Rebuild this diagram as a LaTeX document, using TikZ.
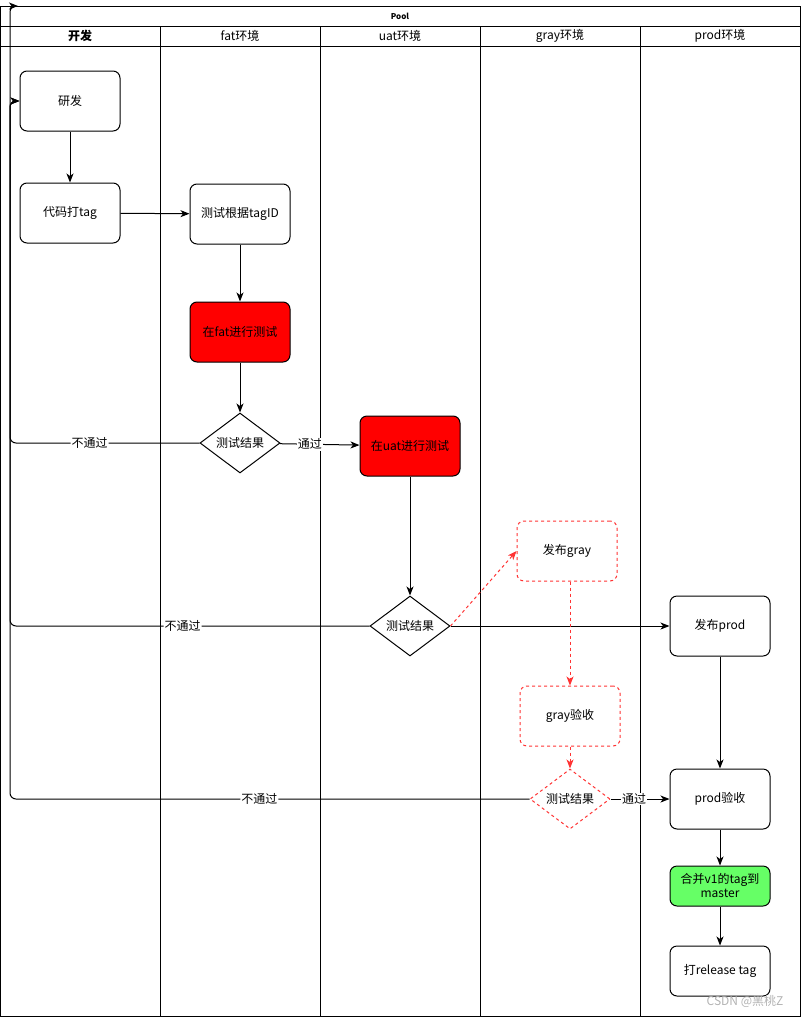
\documentclass[tikz,border=0pt]{standalone}
\usepackage{fontspec}
\setmainfont{Noto Sans CJK SC}
\usetikzlibrary{positioning, arrows, arrows.meta, shapes.geometric}
\definecolor{dashred}{RGB}{255,51,51}
\definecolor{okgreen}{RGB}{102,255,102}
\tikzset{
>={Stealth[length=9pt, width=7pt, inset=2.5pt]}, % arrow heads
lane/.style={line width=1pt}, % lines of the pool and its lanes
every node/.style={font=\fontsize{12}{14}\selectfont}, % text size of all labels
header/.style={}, % lane titles
box/.style={draw, line width=1pt, rounded corners=7pt, fill=white, minimum width=100pt, minimum height=60pt, align=center}, % the step boxes
redbox/.style={box, fill=red}, % steps run in a test env
greenbox/.style={box, fill=okgreen, minimum height=40pt}, % merge step
graybox/.style={box, draw=dashred, dashed}, % gray env steps
decision/.style={diamond, draw, line width=1pt, fill=white, aspect=1.333, minimum width=80pt, minimum height=60pt, inner sep=0pt}, % test results
flow/.style={->, line width=1pt}, % connectors
grayflow/.style={->, line width=1pt, dashred, dashed}, % connectors in gray env
tag/.style={fill=white, inner sep=1pt}, % labels on the connectors
}
\begin{document}
\begin{tikzpicture}[x=1pt, y=-1pt]
    \useasboundingbox (0,0) rectangle (801,1017);
    % pool and lanes
    \draw[lane] (0,6) rectangle (800,1016);
    \draw[lane] (0,26) -- (800,26) (0,46) -- (800,46);
    \foreach \x in {160,320,480,640}
        \draw[lane] (\x,26) -- (\x,1016);
    \node[font=\bfseries\fontsize{8}{9}\selectfont] (pool) at (400,16) {Pool};
    \node[header, font=\bfseries\fontsize{12}{14}\selectfont] (dev) at (80,36) {开发};
    \node[header] (fat) at (240,36) {fat环境};
    \node[header] (uat) at (400,36) {uat环境};
    \node[header] (gray) at (560,36) {gray环境};
    \node[header] (prod) at (720,36) {prod环境};

    % steps
    \node[box] (yanfa) at (70,101) {研发};
    \node[box] (dagtag) at (70,213) {代码打tag};
    \node[box] (tagid) at (240,214) {测试根据tagID};
    \node[redbox] (fattest) at (240,332) {在fat进行测试};
    \node[decision] (dfat) at (240,443) {测试结果};
    \node[redbox] (uattest) at (410,446) {在uat进行测试};
    \node[decision] (duat) at (410,626) {测试结果};
    \node[graybox] (pubgray) at (567,551) {发布gray};
    \node[graybox] (grayok) at (570,716) {gray验收};
    \node[decision, draw=dashred, dashed] (dgray) at (570,799) {测试结果};
    \node[box] (pubprod) at (720,626) {发布prod};
    \node[box] (prodok) at (720,799) {prod验收};
    \node[greenbox] (merge) at (720,886) {合并v1的tag到\\master};
    \node[box, minimum height=50pt] (release) at (720,971) {打release tag};
    \node[text=gray!60] (mark) at (745,1001) {CSDN @黑桃Z};

    % way back to the start
    \coordinate (backA) at (10,101);
    \coordinate (backB) at (10,6);
    \coordinate (backC) at (18,6);

    \draw[flow] (yanfa) -- (dagtag);
    \draw[flow] (dagtag) -- (tagid);
    \draw[flow] (tagid) -- (fattest);
    \draw[flow] (fattest) -- (dfat);
    \draw[flow] (dfat) -- node[tag, pos=0.38]{通过} (uattest);
    \draw[flow, rounded corners=6pt] (dfat.west) -| node[tag, pos=0.29]{不通过} (backA) -- (yanfa.west);
    \draw[flow] (uattest) -- (duat);
    \draw[flow] (duat.east) -- (pubprod.west);
    \draw[flow, rounded corners=6pt] (duat.west) -| node[tag, pos=0.26]{不通过} (backA) -- (yanfa.west);
    \draw[grayflow] (duat.east) -- (pubgray.west);
    \draw[grayflow] (pubgray.south -| grayok.north) -- (grayok);
    \draw[grayflow] (grayok) -- (dgray);
    \draw[flow] (dgray) -- node[tag, pos=0.4]{通过} (prodok);
    \draw[flow, rounded corners=6pt] (dgray.west) -| node[tag, pos=0.26]{不通过} (backB) -- (backC);
    \draw[flow] (pubprod) -- (prodok);
    \draw[flow] (prodok) -- (merge);
    \draw[flow] (merge) -- (release);
\end{tikzpicture}
\end{document}
